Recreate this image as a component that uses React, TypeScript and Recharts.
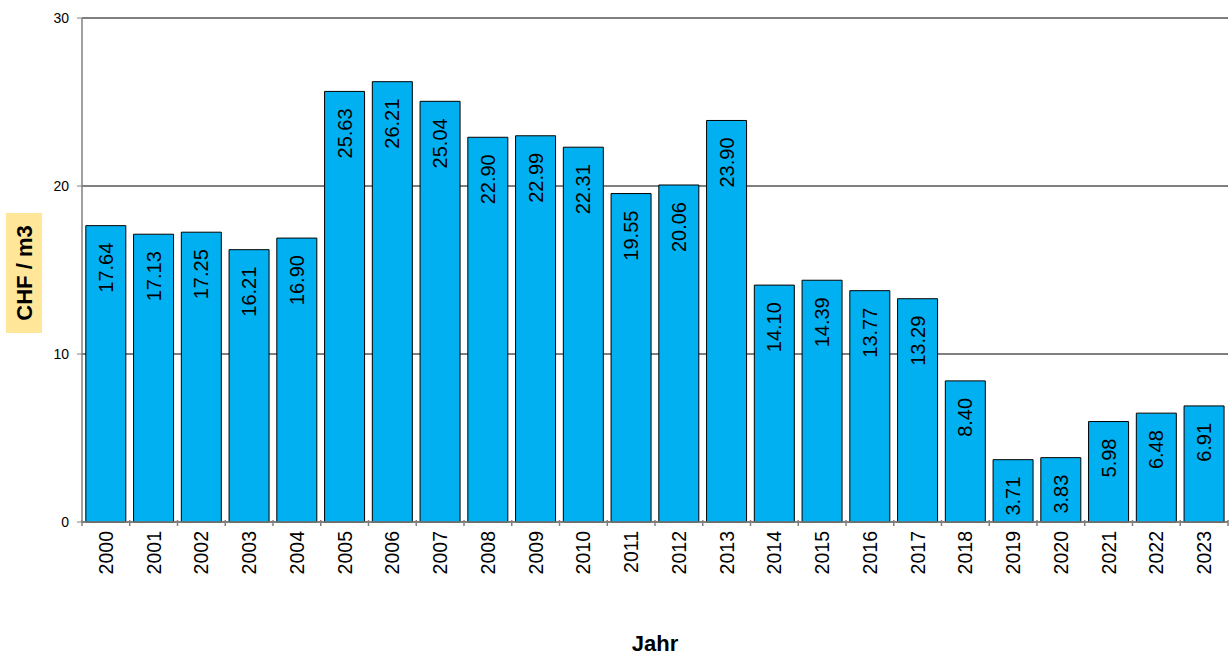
import React from "react";
import { BarChart, Bar, XAxis, YAxis, CartesianGrid, LabelList } from "recharts";

const years = [
  "2000", "2001", "2002", "2003", "2004", "2005", "2006", "2007", "2008", "2009", "2010", "2011",
  "2012", "2013", "2014", "2015", "2016", "2017", "2018", "2019", "2020", "2021", "2022", "2023",
];
const prices = [
  17.64, 17.13, 17.25, 16.21, 16.9, 25.63, 26.21, 25.04, 22.9, 22.99, 22.31, 19.55,
  20.06, 23.9, 14.1, 14.39, 13.77, 13.29, 8.4, 3.71, 3.83, 5.98, 6.48, 6.91,
];
const yTicks = [0, 10, 20, 30];

const data = years.map((y, i) => ({ year: y, price: prices[i] }));

const W = 1229;
const H = 657;
const M = { top: 18, right: 1, left: 0, bottom: 0 };
const Y_W = 82;
const X_H = 135;
const BAND = (W - M.left - M.right - Y_W) / years.length;
const FONT = "'Liberation Sans', Arial, sans-serif";

function YearTick(props: any) {
  const { x, y, payload, index } = props;
  const last = index === years.length - 1;
  return (
    <g>
      <line x1={x - BAND / 2} x2={x - BAND / 2} y1={y - 8} y2={y - 2} stroke="#808080" strokeWidth={1.5} />
      {last && <line x1={x + BAND / 2} x2={x + BAND / 2} y1={y - 8} y2={y - 2} stroke="#808080" strokeWidth={1.5} />}
      <text
        x={x}
        y={y + 3}
        transform={`rotate(-90, ${x}, ${y + 3})`}
        textAnchor="end"
        dominantBaseline="central"
        fontSize={19.5}
        fontFamily={FONT}
        fill="#000"
      >
        {payload.value}
      </text>
    </g>
  );
}

function ValueLabel(props: any) {
  const { x, y, width, value } = props;
  const cx = x + width / 2;
  const cy = y + 17;
  return (
    <text
      x={cx}
      y={cy}
      transform={`rotate(-90, ${cx}, ${cy})`}
      textAnchor="end"
      dominantBaseline="central"
      fontSize={20}
      fontFamily={FONT}
      fill="#000"
    >
      {Number(value).toFixed(2)}
    </text>
  );
}

function YLabel(props: any) {
  const { viewBox } = props;
  const cy = viewBox.y + viewBox.height / 2 + 3;
  const cx = 24;
  return (
    <g>
      <rect x={cx - 18} y={cy - 60} width={36} height={120} fill="#FFE699" />
      <text
        x={cx}
        y={cy}
        transform={`rotate(-90, ${cx}, ${cy})`}
        textAnchor="middle"
        dominantBaseline="central"
        fontSize={22}
        fontWeight="bold"
        fontFamily={FONT}
        fill="#000"
      >
        CHF / m3
      </text>
    </g>
  );
}

export default function App() {
  return (
    <div style={{ position: "absolute", left: 0, top: 0, width: W, height: H, background: "#fff" }}>
      <BarChart width={W} height={H} data={data} margin={M} barCategoryGap="8%">
        <CartesianGrid vertical={false} stroke="#000" strokeWidth={1} />
        <XAxis
          dataKey="year"
          height={X_H}
          tickLine={false}
          axisLine={{ stroke: "#808080", strokeWidth: 1.5 }}
          tick={<YearTick />}
          tickMargin={0}
          interval={0}
          label={{
            value: "Jahr",
            position: "insideBottom",
            offset: 6,
            fontSize: 22,
            fontWeight: "bold",
            fontFamily: FONT,
            fill: "#000",
          }}
        />
        <YAxis
          width={Y_W}
          domain={[0, 30]}
          ticks={yTicks}
          tickSize={5}
          tickLine={{ stroke: "#808080" }}
          axisLine={{ stroke: "#808080", strokeWidth: 1.5 }}
          tick={{ fontSize: 14, fontFamily: FONT, fill: "#000" }}
          tickMargin={8}
          label={<YLabel />}
        />
        <Bar dataKey="price" fill="#00B0F0" stroke="#000" strokeWidth={1} isAnimationActive={false}>
          <LabelList dataKey="price" content={<ValueLabel />} />
        </Bar>
      </BarChart>
    </div>
  );
}
